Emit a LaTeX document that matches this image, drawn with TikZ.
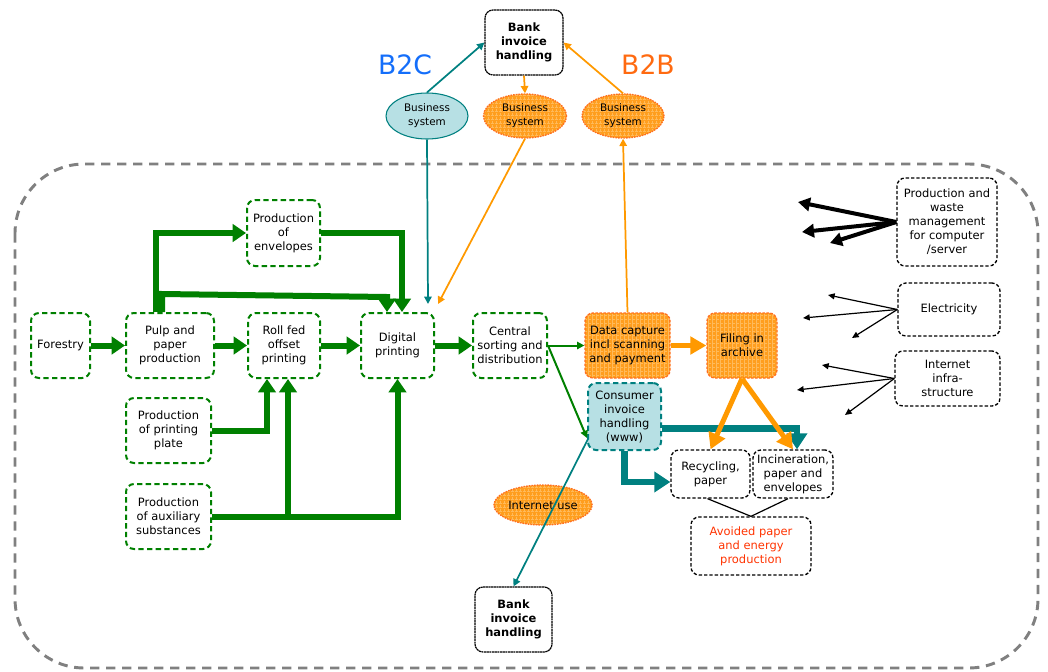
\documentclass[tikz,border=0pt]{standalone}
\usepackage{fontspec}
\setmainfont{DejaVu Sans}
\usetikzlibrary{arrows.meta,calc,shapes.geometric,patterns}

\definecolor{flowgreen}{RGB}{0,128,0}
\definecolor{tealc}{RGB}{0,128,128}
\definecolor{tealfill}{RGB}{183,224,228}
\definecolor{orangefill}{RGB}{255,158,30}
\definecolor{orangegrid}{RGB}{255,186,90}
\definecolor{orangeedge}{RGB}{255,110,30}
\definecolor{orangeline}{RGB}{255,153,0}
\definecolor{framegray}{RGB}{128,128,128}
\definecolor{btoc}{RGB}{20,110,250}
\definecolor{btob}{RGB}{255,106,16}
\definecolor{avoidred}{RGB}{255,51,0}

\tikzset{
  box/.style={rectangle, rounded corners=6pt, align=center, inner sep=1pt,
    font=\fontsize{8.6}{10.5}\selectfont},
  size/.style 2 args={minimum width=#1*0.75pt, minimum height=#2*0.75pt},
  greenbox/.style={box, draw=flowgreen, line width=1.5pt, dash pattern=on 4pt off 2.5pt, fill=white},
  blackbox/.style={box, draw=black, line width=1pt, dash pattern=on 2.5pt off 1.5pt, fill=white},
  bankbox/.style={box, draw=black, line width=0.9pt, dash pattern=on 1.6pt off 0.4pt, fill=white,
    font=\fontsize{8.6}{10.5}\selectfont\bfseries},
  orangebox/.style={box, draw=orangeedge, line width=1pt, dash pattern=on 2pt off 1pt,
    preaction={fill=orangefill}, pattern=grid, pattern color=orangegrid},
  tealbox/.style={box, draw=tealc, line width=1.5pt, dash pattern=on 4pt off 2.5pt, fill=tealfill},
  oval/.style={ellipse, inner sep=0pt, align=center, font=\fontsize{7.8}{10.5}\selectfont},
  tealoval/.style={oval, draw=tealc, line width=0.8pt, fill=tealfill},
  orangeoval/.style={oval, draw=orangeedge, line width=1pt, dash pattern=on 1.2pt off 0.8pt,
    preaction={fill=orangefill}, pattern=grid, pattern color=orangegrid},
  garrow/.style={draw=flowgreen, line width=4.5pt, -{Triangle[length=10pt,width=13pt]}},
  gthin/.style={draw=flowgreen, line width=1.5pt, -{Triangle[length=5.5pt,width=5.5pt]}},
  othick/.style={draw=orangeline, line width=3.75pt, -{Triangle[length=12pt,width=13pt]}},
  othin/.style={draw=orangeline, line width=1.3pt, -{Triangle[length=5.5pt,width=5.5pt]}},
  tthick/.style={draw=tealc, line width=5pt, -{Triangle[length=12pt,width=15pt]}},
  tthin/.style={draw=tealc, line width=1.3pt, -{Triangle[length=5.5pt,width=5.5pt]}},
  bthick/.style={draw=black, line width=3pt, -{Triangle[length=9pt,width=10pt]}},
  bthin/.style={draw=black, line width=0.9pt, -{Triangle[length=5pt,width=4.5pt]}},
}

\begin{document}
\begin{tikzpicture}[x=0.75pt, y=-0.75pt]
\useasboundingbox (0,0) rectangle (1048,671);

% system boundary
\draw[framegray, line width=2.2pt, dash pattern=on 7pt off 5pt, rounded corners=52pt]
  (15,164) rectangle (1038,668);

% B2C / B2B headings
\node[text=btoc, font=\fontsize{20}{24}\selectfont] (b2c) at (405,65) {B2C};
\node[text=btob, font=\fontsize{20}{24}\selectfont] (b2b) at (648,65) {B2B};

% paper production chain
\node[greenbox, size={59}{65}] (forestry) at (60.5,345.5) {Forestry};
\node[greenbox, size={88}{65}] (pulp) at (170,345.5) {Pulp and\\paper\\production};
\node[greenbox, size={73}{66}] (env) at (283.5,233) {Production\\of\\envelopes};
\node[greenbox, size={72}{65}] (roll) at (284,345.5) {Roll fed\\offset\\printing};
\node[greenbox, size={73}{65}] (digital) at (397.5,345.5) {Digital\\printing};
\node[greenbox, size={85}{65}] (plate) at (168.5,430.5) {Production\\of printing\\plate};
\node[greenbox, size={85}{65}] (aux) at (168.5,516.5) {Production\\of auxiliary\\substances};
\node[greenbox, size={74}{65}] (central) at (510,345.5) {Central\\sorting and\\distribution};

% invoice handling
\node[orangebox, size={85}{65}] (capture) at (627.5,345.5) {Data capture\\incl scanning\\and payment};
\node[orangebox, size={70}{65}] (filing) at (742,345.5) {Filing in\\archive};
\node[tealbox, size={73}{67}] (consumer) at (624.5,416.5) {Consumer\\invoice\\handling\\(www)};
\node[blackbox, size={79}{48}] (recyc) at (710.5,474) {Recycling,\\paper};
\node[blackbox, size={80}{48}] (incin) at (793,474) {Incineration,\\paper and\\envelopes};
\node[blackbox, size={120}{58}, text=avoidred] (avoided) at (751,546) {Avoided paper\\and energy\\production};
\node[bankbox, size={77}{65}] (bankbot) at (513.5,619.5) {Bank\\invoice\\handling};
\node[bankbox, size={78}{65}] (banktop) at (524,42.5) {Bank\\invoice\\handling};
\node[tealoval, size={82}{46}] (bs1) at (427,116) {Business\\system};
\node[orangeoval, size={83}{44}] (bs2) at (525,116) {Business\\system};
\node[orangeoval, size={82}{44}] (bs3) at (623,116) {Business\\system};
\node[orangeoval, size={86}{40}, font=\fontsize{8.6}{10.5}\selectfont] (inetuse) at (543,505) {Internet use};

% infrastructure
\node[blackbox, size={100}{88}] (prodwaste) at (947,222) {Production and\\waste\\management\\for computer\\/server};
\node[blackbox, size={102}{53}] (elec) at (949,309.5) {Electricity};
\node[blackbox, size={105}{55}] (infra) at (947.5,378.5) {Internet\\infra-\\structure};

% free ends of the infrastructure arrows
\coordinate (pw1) at (798,202);
\coordinate (pw2) at (802,232);
\coordinate (pw3) at (830,243);
\coordinate (el1) at (828,295);
\coordinate (el2) at (803,318);
\coordinate (el3) at (852,338);
\coordinate (in1) at (822,365);
\coordinate (in2) at (797,390);
\coordinate (in3) at (845,415);

% green material flows
\draw[garrow] (forestry) -- (pulp);
\draw[garrow] (pulp) -- (roll);
\draw[garrow] (roll) -- (digital);
\draw[garrow] (digital) -- (central);
\draw[garrow] ($(pulp.north west)+(31,0)$) |- (env.west);
\draw[garrow] ($(pulp.north west)+(37,0)$) -- ++(0,-18)
  -- ($(digital.north west)+(27,-15)$) -- ($(digital.north west)+(27,0)$);
\draw[garrow] (env.east) -| ($(digital.north west)+(42,0)$);
\draw[garrow] (plate.east) -| ($(roll.south west)+(20,0)$);
\draw[garrow] (aux.east) -| (digital.south);
\coordinate (rollin) at ($(roll.south west)+(41,0)$);
\draw[garrow] (aux.east -| rollin) -- (rollin);
\draw[gthin] (central.east) -- (capture.west);
\draw[gthin] (central.east) -- ($(consumer.south west)+(0,-13)$);

% teal flows
\draw[tthick] ($(consumer.east)+(0,12)$) -| ($(incin.north)+(4,0)$);
\draw[tthick] (consumer.south) |- ($(recyc.west)+(0,8)$);
\draw[tthin] ($(consumer.south west)+(1,-12)$) -- (bankbot.north);
\draw[tthin] (bs1.north) -- (banktop.west);
\draw[tthin] (bs1.south) -- ($(digital.north east)+(-7,-8)$);

% orange flows
\draw[othick] (capture.east) -- (filing.west);
\draw[othick] (filing.south) -- (recyc.north);
\draw[othick] (filing.south) -- (incin.north);
\draw[othin] (banktop.south) -- (bs2.north);
\draw[othin] (bs2.south) -- ($(digital.north east)+(3,-8)$);
\draw[othin] (capture.north) -- (bs3.south);
\draw[othin] (bs3.north) -- (banktop.east);

% end-of-life links
\draw[black, line width=0.9pt] ($(recyc.south)+(-3,0)$) -- (avoided.north);
\draw[black, line width=0.9pt] ($(incin.south)+(-5,0)$) -- (avoided.north);

% infrastructure arrows
\draw[bthick] (prodwaste.west) -- (pw1);
\draw[bthick] (prodwaste.west) -- (pw2);
\draw[bthick] (prodwaste.west) -- (pw3);
\draw[bthin] (elec.west) -- (el1);
\draw[bthin] (elec.west) -- (el2);
\draw[bthin] (elec.west) -- (el3);
\draw[bthin] (infra.west) -- (in1);
\draw[bthin] (infra.west) -- (in2);
\draw[bthin] (infra.west) -- (in3);
\end{tikzpicture}
\end{document}
